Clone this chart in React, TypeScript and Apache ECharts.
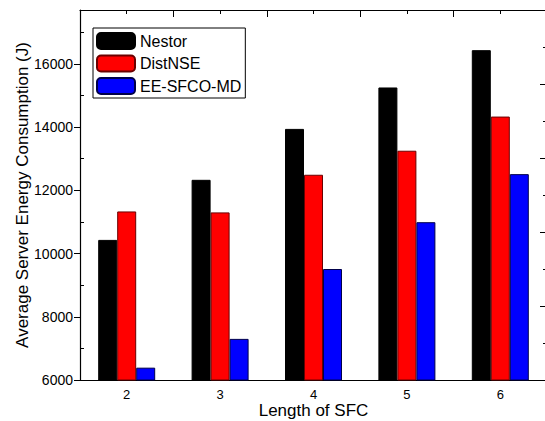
import React, { useEffect, useRef } from "react";
import * as echarts from "echarts";

const categories = ["2", "3", "4", "5", "6"];
const nestor = [10430, 12330, 13940, 15250, 16430];
const distNSE = [11330, 11300, 12490, 13250, 14330];
const eeSfcoMd = [6390, 7300, 9510, 10990, 12510];
const yMinorTicks = [7000, 9000, 11000, 13000, 15000, 17000];

const FONT = "'Liberation Sans', Arial, sans-serif";

export default function App() {
  const ref = useRef<HTMLDivElement>(null);
  useEffect(() => {
    if (!ref.current) return;
    const chart = echarts.init(ref.current, null, { renderer: "svg" });
    const barBase = { type: "bar", barWidth: 19, barGap: "0%", xAxisIndex: 0, yAxisIndex: 0 };
    chart.setOption({
      animation: false,
      backgroundColor: "#ffffff",
      textStyle: { fontFamily: FONT },
      grid: { left: 80, top: 10, width: 467, height: 370, outerBoundsMode: "none", containLabel: false },
      legend: {
        orient: "vertical",
        left: 93,
        top: 28,
        padding: [4, 4, 3, 3],
        itemGap: 4.5,
        itemWidth: 38,
        itemHeight: 16,
        borderColor: "#000",
        borderWidth: 1,
        textStyle: { fontFamily: FONT, fontSize: 16, color: "#000" },
        data: ["Nestor", "DistNSE", "EE-SFCO-MD"],
      },
      xAxis: [
        {
          type: "category",
          data: categories,
          position: "bottom",
          axisLine: { show: true, lineStyle: { color: "#000", width: 1.2 } },
          axisTick: { show: true, inside: true, alignWithLabel: true, length: 7, lineStyle: { color: "#000" } },
          axisLabel: { fontFamily: FONT, fontSize: 13, lineHeight: 13, color: "#000", margin: 8 },
          name: "Length of SFC",
          nameLocation: "middle",
          nameGap: 22,
          nameMoveOverlap: false,
          nameTextStyle: { fontFamily: FONT, fontSize: 17, lineHeight: 17, color: "#000" },
          splitLine: { show: false },
        },
        {
          type: "value",
          position: "top",
          min: 1.5,
          max: 6.5,
          interval: 1,
          axisLine: { show: true, onZero: false, lineStyle: { color: "#000", width: 1.2 } },
          axisTick: { show: true, inside: true, length: 7, lineStyle: { color: "#000" } },
          minorTick: { show: true, splitNumber: 2, length: 4, lineStyle: { color: "#000" } },
          axisLabel: { show: false },
          splitLine: { show: false },
        },
      ],
      yAxis: [
        {
          type: "value",
          position: "left",
          min: 6000,
          max: 17700,
          interval: 2000,
          axisLine: { show: true, onZero: false, lineStyle: { color: "#000", width: 1.2 } },
          axisTick: { show: true, inside: false, length: 6, lineStyle: { color: "#000" } },
          axisLabel: {
            fontFamily: FONT,
            fontSize: 14,
            color: "#000",
            margin: 7,
            showMaxLabel: false,
            formatter: (v: number) => String(v),
          },
          splitLine: { show: false },
          name: "Average Server Energy Consumption (J)",
          nameLocation: "middle",
          nameRotate: 90,
          nameGap: 49,
          nameMoveOverlap: false,
          nameTextStyle: { fontFamily: FONT, fontSize: 17, color: "#000" },
        },
        {
          type: "value",
          position: "left",
          min: 6000,
          max: 17700,
          axisLine: { show: false },
          axisTick: { show: true, inside: true, length: 4, customValues: yMinorTicks, lineStyle: { color: "#000" } },
          axisLabel: { show: false },
          splitLine: { show: false },
        },
        {
          type: "value",
          position: "right",
          min: 0,
          max: 5,
          interval: 1,
          axisLine: { show: true, onZero: false, lineStyle: { color: "#000", width: 1.2 } },
          axisTick: { show: true, inside: true, length: 7, lineStyle: { color: "#000" } },
          minorTick: { show: true, splitNumber: 2, length: 4, lineStyle: { color: "#000" } },
          axisLabel: { show: false },
          splitLine: { show: false },
        },
      ],
      series: [
        { ...barBase, name: "Nestor", data: nestor, itemStyle: { color: "#000000", borderColor: "#000000", borderWidth: 1 } },
        { ...barBase, name: "DistNSE", data: distNSE, itemStyle: { color: "#ff0000", borderColor: "#6b0000", borderWidth: 1 } },
        { ...barBase, name: "EE-SFCO-MD", data: eeSfcoMd, itemStyle: { color: "#0000ff", borderColor: "#00004a", borderWidth: 1 } },
      ],
    });
    return () => chart.dispose();
  }, []);
  return (
    <div
      ref={ref}
      style={{ position: "absolute", left: 0, top: 0, width: 545, height: 421, background: "#fff" }}
    />
  );
}
